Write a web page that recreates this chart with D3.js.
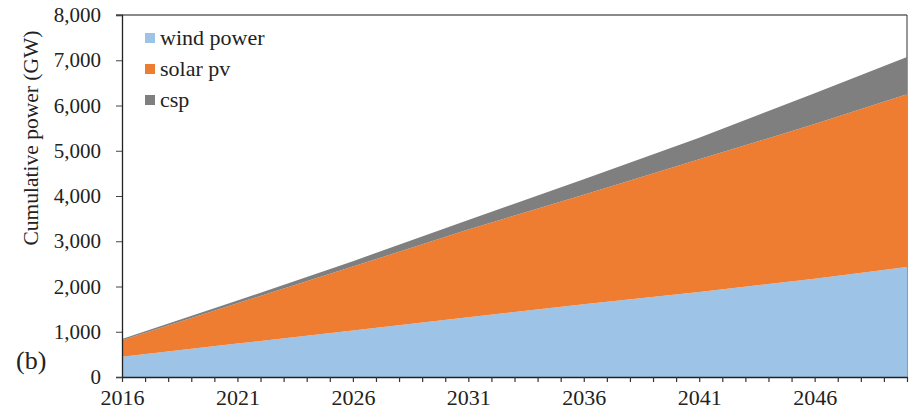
<!DOCTYPE html>
<html>
<head>
<meta charset="utf-8">
<script src="https://cdn.jsdelivr.net/npm/d3@7"></script>
<style>
  html, body { margin: 0; padding: 0; background: #fff; }
  svg { display: block; }
  text { font-family: "Liberation Serif", "Times New Roman", serif; fill: #222; }
</style>
</head>
<body>
<svg id="chart" width="913" height="415"></svg>
<script>
// Cumulative installed capacity (GW) by technology
const years      = [2016, 2021, 2026, 2031, 2036, 2041, 2046, 2050];
const windPower  = [450, 740, 1030, 1320, 1610, 1880, 2170, 2430];
const solarPv    = [360, 890, 1410, 1940, 2420, 2930, 3420, 3820];
const csp        = [30, 60, 120, 210, 340, 480, 680, 820];

const seriesNames  = ["wind power", "solar pv", "csp"];
const seriesKeys   = ["wind", "solar", "csp"];
const seriesColors = ["#9dc3e6", "#ee7d31", "#7f7f7f"];

const yTicks = [0, 1000, 2000, 3000, 4000, 5000, 6000, 7000, 8000];
const xLabelYears = [2016, 2021, 2026, 2031, 2036, 2041, 2046];

const table = years.map((yr, i) => ({ year: yr, wind: windPower[i], solar: solarPv[i], csp: csp[i] }));

const svg = d3.select("#chart");
const plotLeft = 122, plotRight = 907, plotTop = 15, plotBottom = 377;

const x = d3.scaleLinear().domain([2016, 2050]).range([plotLeft, plotRight]);
const y = d3.scaleLinear().domain([0, 8000]).range([plotBottom, plotTop]);

// plot frame: grey top edge and dark right edge
svg.append("line").attr("x1", plotLeft - 6).attr("x2", plotRight).attr("y1", plotTop).attr("y2", plotTop)
  .attr("stroke", "#8a8a8a").attr("stroke-width", 2.2);
svg.append("line").attr("x1", plotRight).attr("x2", plotRight).attr("y1", plotTop).attr("y2", plotBottom)
  .attr("stroke", "#333").attr("stroke-width", 1);

// stacked areas
const stack = d3.stack().keys(seriesKeys);
const layers = stack(table);
const area = d3.area()
  .x(d => x(d.data.year))
  .y0(d => y(d[0]))
  .y1(d => y(d[1]));

svg.append("g").selectAll("path")
  .data(layers)
  .join("path")
  .attr("d", area)
  .attr("fill", (d, i) => seriesColors[i]);

// y axis
const yAxis = svg.append("g")
  .attr("transform", `translate(${plotLeft},0)`)
  .call(d3.axisLeft(y).tickValues(yTicks).tickFormat(d3.format(",")).tickSize(6).tickPadding(15));
yAxis.select(".domain").attr("stroke", "#222").attr("stroke-width", 1.3);
yAxis.selectAll(".tick line").attr("stroke", "#444");
yAxis.selectAll(".tick text").style("font-size", "21px").attr("fill", "#2a2a2a")
  .style("font-family", "'Liberation Serif', serif");

// x axis with yearly ticks
const allYears = d3.range(2016, 2051);
const xAxis = svg.append("g")
  .attr("transform", `translate(0,${plotBottom})`)
  .call(d3.axisBottom(x).tickValues(allYears).tickSize(5).tickSizeOuter(0)
    .tickFormat(d => xLabelYears.includes(d) ? String(d) : ""));
xAxis.select(".domain").attr("stroke", "#222").attr("stroke-width", 1.5);
xAxis.selectAll(".tick line").attr("stroke", "#333").attr("stroke-width", 1.2);
xAxis.selectAll(".tick text").style("font-size", "22px").attr("fill", "#1a1a1a")
  .attr("dy", "0.9em").style("font-family", "'Liberation Serif', serif");

// y axis title
svg.append("text")
  .attr("transform", `translate(38,138) rotate(-90)`)
  .attr("text-anchor", "middle")
  .style("font-size", "21.5px")
  .attr("fill", "#333")
  .text("Cumulative power (GW)");

// panel letter
svg.append("text")
  .attr("x", 16).attr("y", 369)
  .style("font-size", "26px")
  .text("(b)");

// legend
const legend = svg.append("g");
seriesNames.forEach((name, i) => {
  const cy = 38 + i * 31;
  legend.append("rect")
    .attr("x", 145).attr("y", cy - 5).attr("width", 10).attr("height", 10)
    .attr("fill", seriesColors[i]);
  legend.append("text")
    .attr("x", 160).attr("y", cy + 7)
    .style("font-size", "22px")
    .text(name);
});
</script>
</body>
</html>
